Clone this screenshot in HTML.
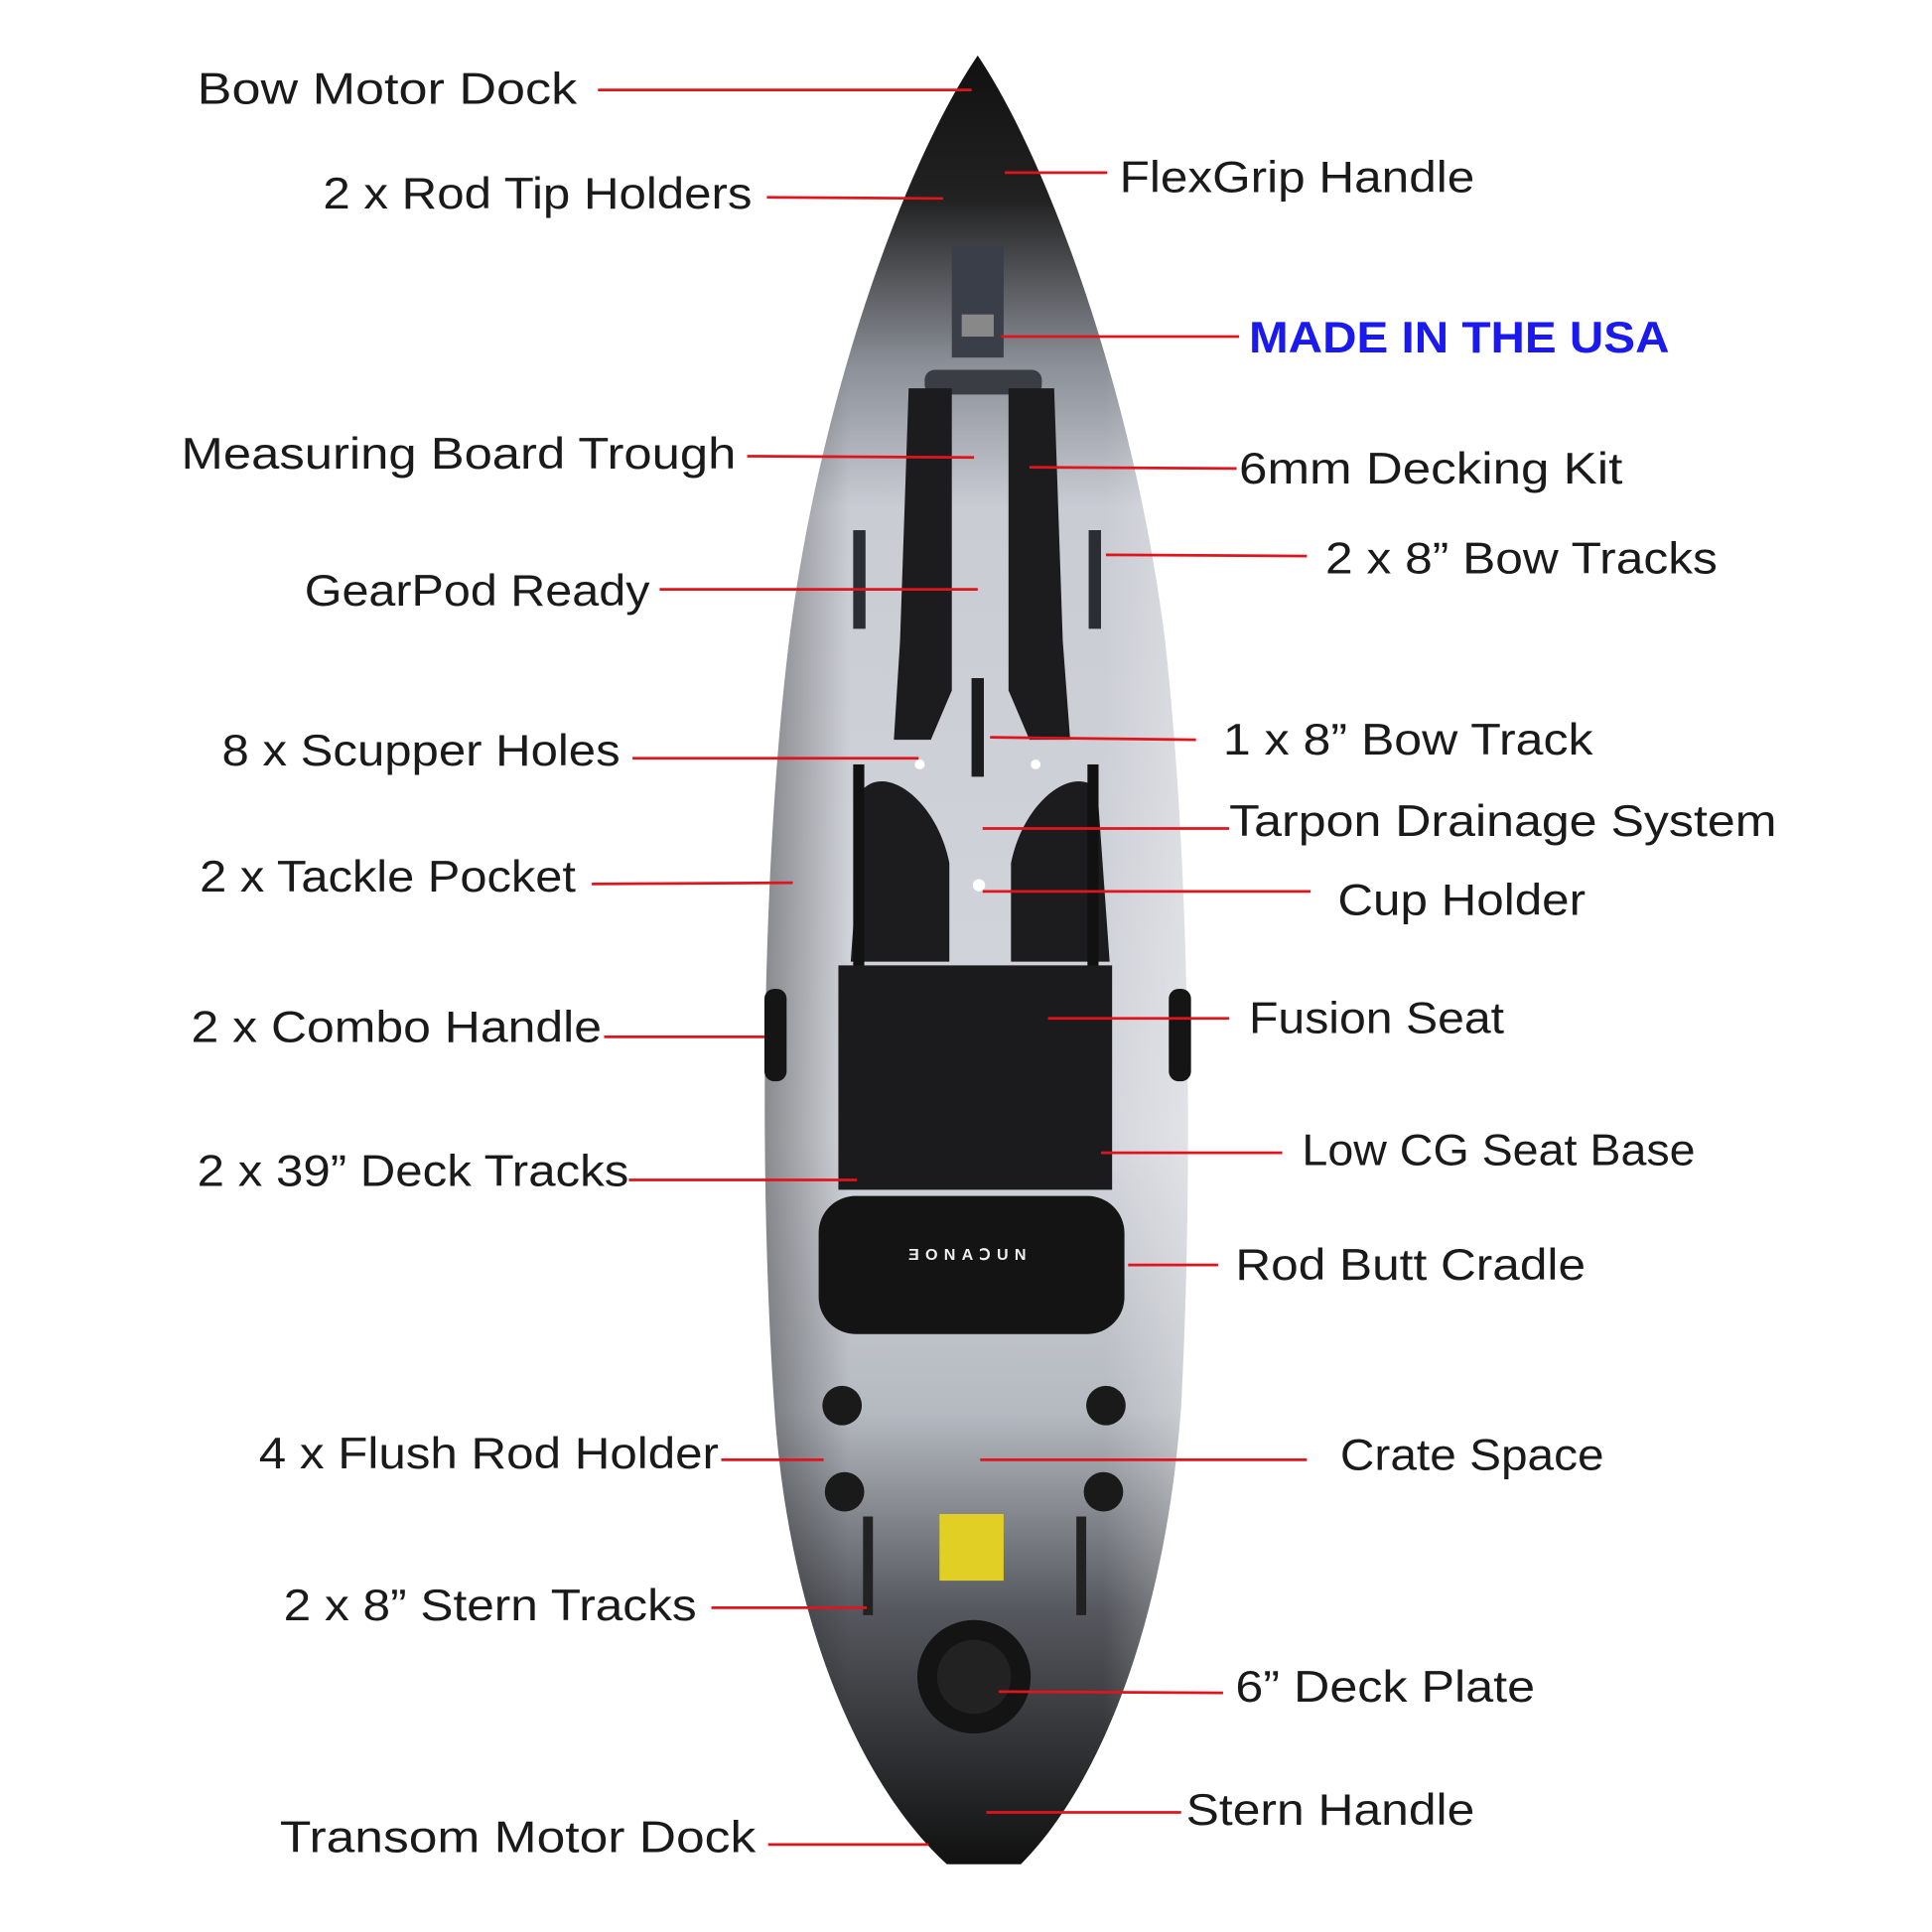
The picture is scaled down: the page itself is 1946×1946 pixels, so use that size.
<!DOCTYPE html>
<html><head><meta charset="utf-8"><style>
html,body{margin:0;padding:0;background:#fff;}
svg{display:block;}
text{font-family:"Liberation Sans",sans-serif;font-size:36px;fill:#1a1a1a;}
</style></head><body>
<svg width="1946" height="1946" viewBox="0 0 1567 1567" xmlns="http://www.w3.org/2000/svg">
<defs>
<linearGradient id="hv" x1="0" y1="0" x2="0" y2="1">
<stop offset="0" stop-color="#111"/>
<stop offset="0.08" stop-color="#222"/>
<stop offset="0.17" stop-color="#8a8e96"/>
<stop offset="0.25" stop-color="#c9ccd3"/>
<stop offset="0.6" stop-color="#d3d6dc"/>
<stop offset="0.75" stop-color="#b5b9c0"/>
<stop offset="0.86" stop-color="#55585e"/>
<stop offset="1" stop-color="#111"/>
</linearGradient>
<linearGradient id="hh" x1="0" y1="0" x2="1" y2="0">
<stop offset="0" stop-color="#000" stop-opacity="0.35"/>
<stop offset="0.2" stop-color="#000" stop-opacity="0"/>
<stop offset="0.8" stop-color="#fff" stop-opacity="0"/>
<stop offset="1" stop-color="#fff" stop-opacity="0.3"/>
</linearGradient>
</defs>
<path d="M793,45 C850,130 920,320 945,520 C965,700 968,950 958,1140 C945,1320 890,1450 828,1512 L768,1512 C700,1450 640,1320 628,1140 C615,950 618,700 640,520 C665,320 735,130 793,45 Z" fill="url(#hv)"/>
<path d="M793,45 C850,130 920,320 945,520 C965,700 968,950 958,1140 C945,1320 890,1450 828,1512 L768,1512 C700,1450 640,1320 628,1140 C615,950 618,700 640,520 C665,320 735,130 793,45 Z" fill="url(#hh)"/>
<rect x="772" y="200" width="42" height="90" fill="#3a3e48"/>
<rect x="780" y="255" width="26" height="18" fill="#888"/>
<rect x="750" y="300" width="95" height="20" fill="#3a3d44" rx="8"/>
<path d="M737,315 L772,315 L772,560 L755,600 L725,600 L730,520 Z" fill="#1c1c1f"/>
<path d="M818,315 L855,315 L862,520 L868,600 L835,600 L818,560 Z" fill="#1c1c1f"/>
<rect x="692" y="430" width="10" height="80" fill="#2a2d33"/>
<rect x="883" y="430" width="10" height="80" fill="#2a2d33"/>
<path d="M700,640 C720,620 760,650 770,700 L770,780 L690,780 Z" fill="#1c1c1f"/>
<path d="M890,640 C870,620 830,650 820,700 L820,780 L900,780 Z" fill="#1c1c1f"/>
<rect x="788" y="550" width="10" height="80" fill="#1c1c1f"/>
<circle cx="746" cy="620" r="4" fill="#fff"/>
<circle cx="840" cy="620" r="4" fill="#fff"/>
<circle cx="794" cy="718" r="5" fill="#fff"/>
<rect x="692" y="620" width="9" height="170" fill="#111"/>
<rect x="882" y="620" width="9" height="170" fill="#111"/>
<rect x="620" y="802" width="18" height="75" rx="8" fill="#151515"/>
<rect x="948" y="802" width="18" height="75" rx="8" fill="#151515"/>
<rect x="680" y="783" width="222" height="182" fill="#1b1b1d"/>
<rect x="664" y="970" width="248" height="112" rx="30" fill="#141414"/>
<text x="787" y="1022" text-anchor="middle" style="font-size:13px;fill:#eee;letter-spacing:5px;font-weight:bold">ƎONAↃUN</text>
<circle cx="683" cy="1140" r="16" fill="#1a1a1a"/><circle cx="897" cy="1140" r="16" fill="#1a1a1a"/>
<circle cx="685" cy="1210" r="16" fill="#1a1a1a"/><circle cx="895" cy="1210" r="16" fill="#1a1a1a"/>
<rect x="762" y="1228" width="52" height="54" fill="#e2cf25"/>
<circle cx="790" cy="1360" r="46" fill="#141414"/>
<circle cx="790" cy="1360" r="30" fill="#222"/>
<rect x="700" y="1230" width="8" height="80" fill="#222"/>
<rect x="873" y="1230" width="8" height="80" fill="#222"/>
<g stroke="#e0141c" stroke-width="2.2" fill="none">
<line x1="485" y1="73" x2="788" y2="73"/>
<line x1="622" y1="160" x2="765" y2="161"/>
<line x1="606" y1="370" x2="790" y2="371"/>
<line x1="535" y1="478" x2="793" y2="478"/>
<line x1="513" y1="615" x2="745" y2="615"/>
<line x1="480" y1="717" x2="643" y2="716"/>
<line x1="490" y1="841" x2="620" y2="841"/>
<line x1="510" y1="957" x2="695" y2="957"/>
<line x1="585" y1="1184" x2="668" y2="1184"/>
<line x1="577" y1="1304" x2="703" y2="1304"/>
<line x1="623" y1="1496" x2="753" y2="1496"/>
<line x1="815" y1="140" x2="898" y2="140"/>
<line x1="812" y1="273" x2="1005" y2="273"/>
<line x1="835" y1="379" x2="1003" y2="380"/>
<line x1="897" y1="450" x2="1060" y2="451"/>
<line x1="803" y1="598" x2="970" y2="600"/>
<line x1="797" y1="672" x2="997" y2="672"/>
<line x1="797" y1="723" x2="1063" y2="723"/>
<line x1="850" y1="826" x2="997" y2="826"/>
<line x1="893" y1="935" x2="1040" y2="935"/>
<line x1="915" y1="1026" x2="988" y2="1026"/>
<line x1="795" y1="1184" x2="1060" y2="1184"/>
<line x1="810" y1="1372" x2="992" y2="1373"/>
<line x1="800" y1="1470" x2="958" y2="1470"/>
</g>
<text x="160" y="84" textLength="308" lengthAdjust="spacingAndGlyphs">Bow Motor Dock</text>
<text x="262" y="169" textLength="348" lengthAdjust="spacingAndGlyphs">2 x Rod Tip Holders</text>
<text x="147" y="380" textLength="450" lengthAdjust="spacingAndGlyphs">Measuring Board Trough</text>
<text x="247" y="491" textLength="280" lengthAdjust="spacingAndGlyphs">GearPod Ready</text>
<text x="180" y="621" textLength="323" lengthAdjust="spacingAndGlyphs">8 x Scupper Holes</text>
<text x="162" y="723" textLength="305" lengthAdjust="spacingAndGlyphs">2 x Tackle Pocket</text>
<text x="155" y="845" textLength="333" lengthAdjust="spacingAndGlyphs">2 x Combo Handle</text>
<text x="160" y="962" textLength="350" lengthAdjust="spacingAndGlyphs">2 x 39” Deck Tracks</text>
<text x="210" y="1191" textLength="373" lengthAdjust="spacingAndGlyphs">4 x Flush Rod Holder</text>
<text x="230" y="1314" textLength="335" lengthAdjust="spacingAndGlyphs">2 x 8” Stern Tracks</text>
<text x="227" y="1502" textLength="386" lengthAdjust="spacingAndGlyphs">Transom Motor Dock</text>
<text x="908" y="156" textLength="288" lengthAdjust="spacingAndGlyphs">FlexGrip Handle</text>
<text x="1013" y="286" textLength="341" lengthAdjust="spacingAndGlyphs" style="fill:#1a1aee;font-weight:bold">MADE IN THE USA</text>
<text x="1005" y="392" textLength="311" lengthAdjust="spacingAndGlyphs">6mm Decking Kit</text>
<text x="1075" y="465" textLength="318" lengthAdjust="spacingAndGlyphs">2 x 8” Bow Tracks</text>
<text x="992" y="612" textLength="300" lengthAdjust="spacingAndGlyphs">1 x 8” Bow Track</text>
<text x="997" y="678" textLength="444" lengthAdjust="spacingAndGlyphs">Tarpon Drainage System</text>
<text x="1085" y="742" textLength="201" lengthAdjust="spacingAndGlyphs">Cup Holder</text>
<text x="1013" y="838" textLength="207" lengthAdjust="spacingAndGlyphs">Fusion Seat</text>
<text x="1056" y="945" textLength="319" lengthAdjust="spacingAndGlyphs">Low CG Seat Base</text>
<text x="1002" y="1038" textLength="284" lengthAdjust="spacingAndGlyphs">Rod Butt Cradle</text>
<text x="1087" y="1192" textLength="214" lengthAdjust="spacingAndGlyphs">Crate Space</text>
<text x="1002" y="1380" textLength="243" lengthAdjust="spacingAndGlyphs">6” Deck Plate</text>
<text x="962" y="1480" textLength="234" lengthAdjust="spacingAndGlyphs">Stern Handle</text>
</svg>
</body></html>
